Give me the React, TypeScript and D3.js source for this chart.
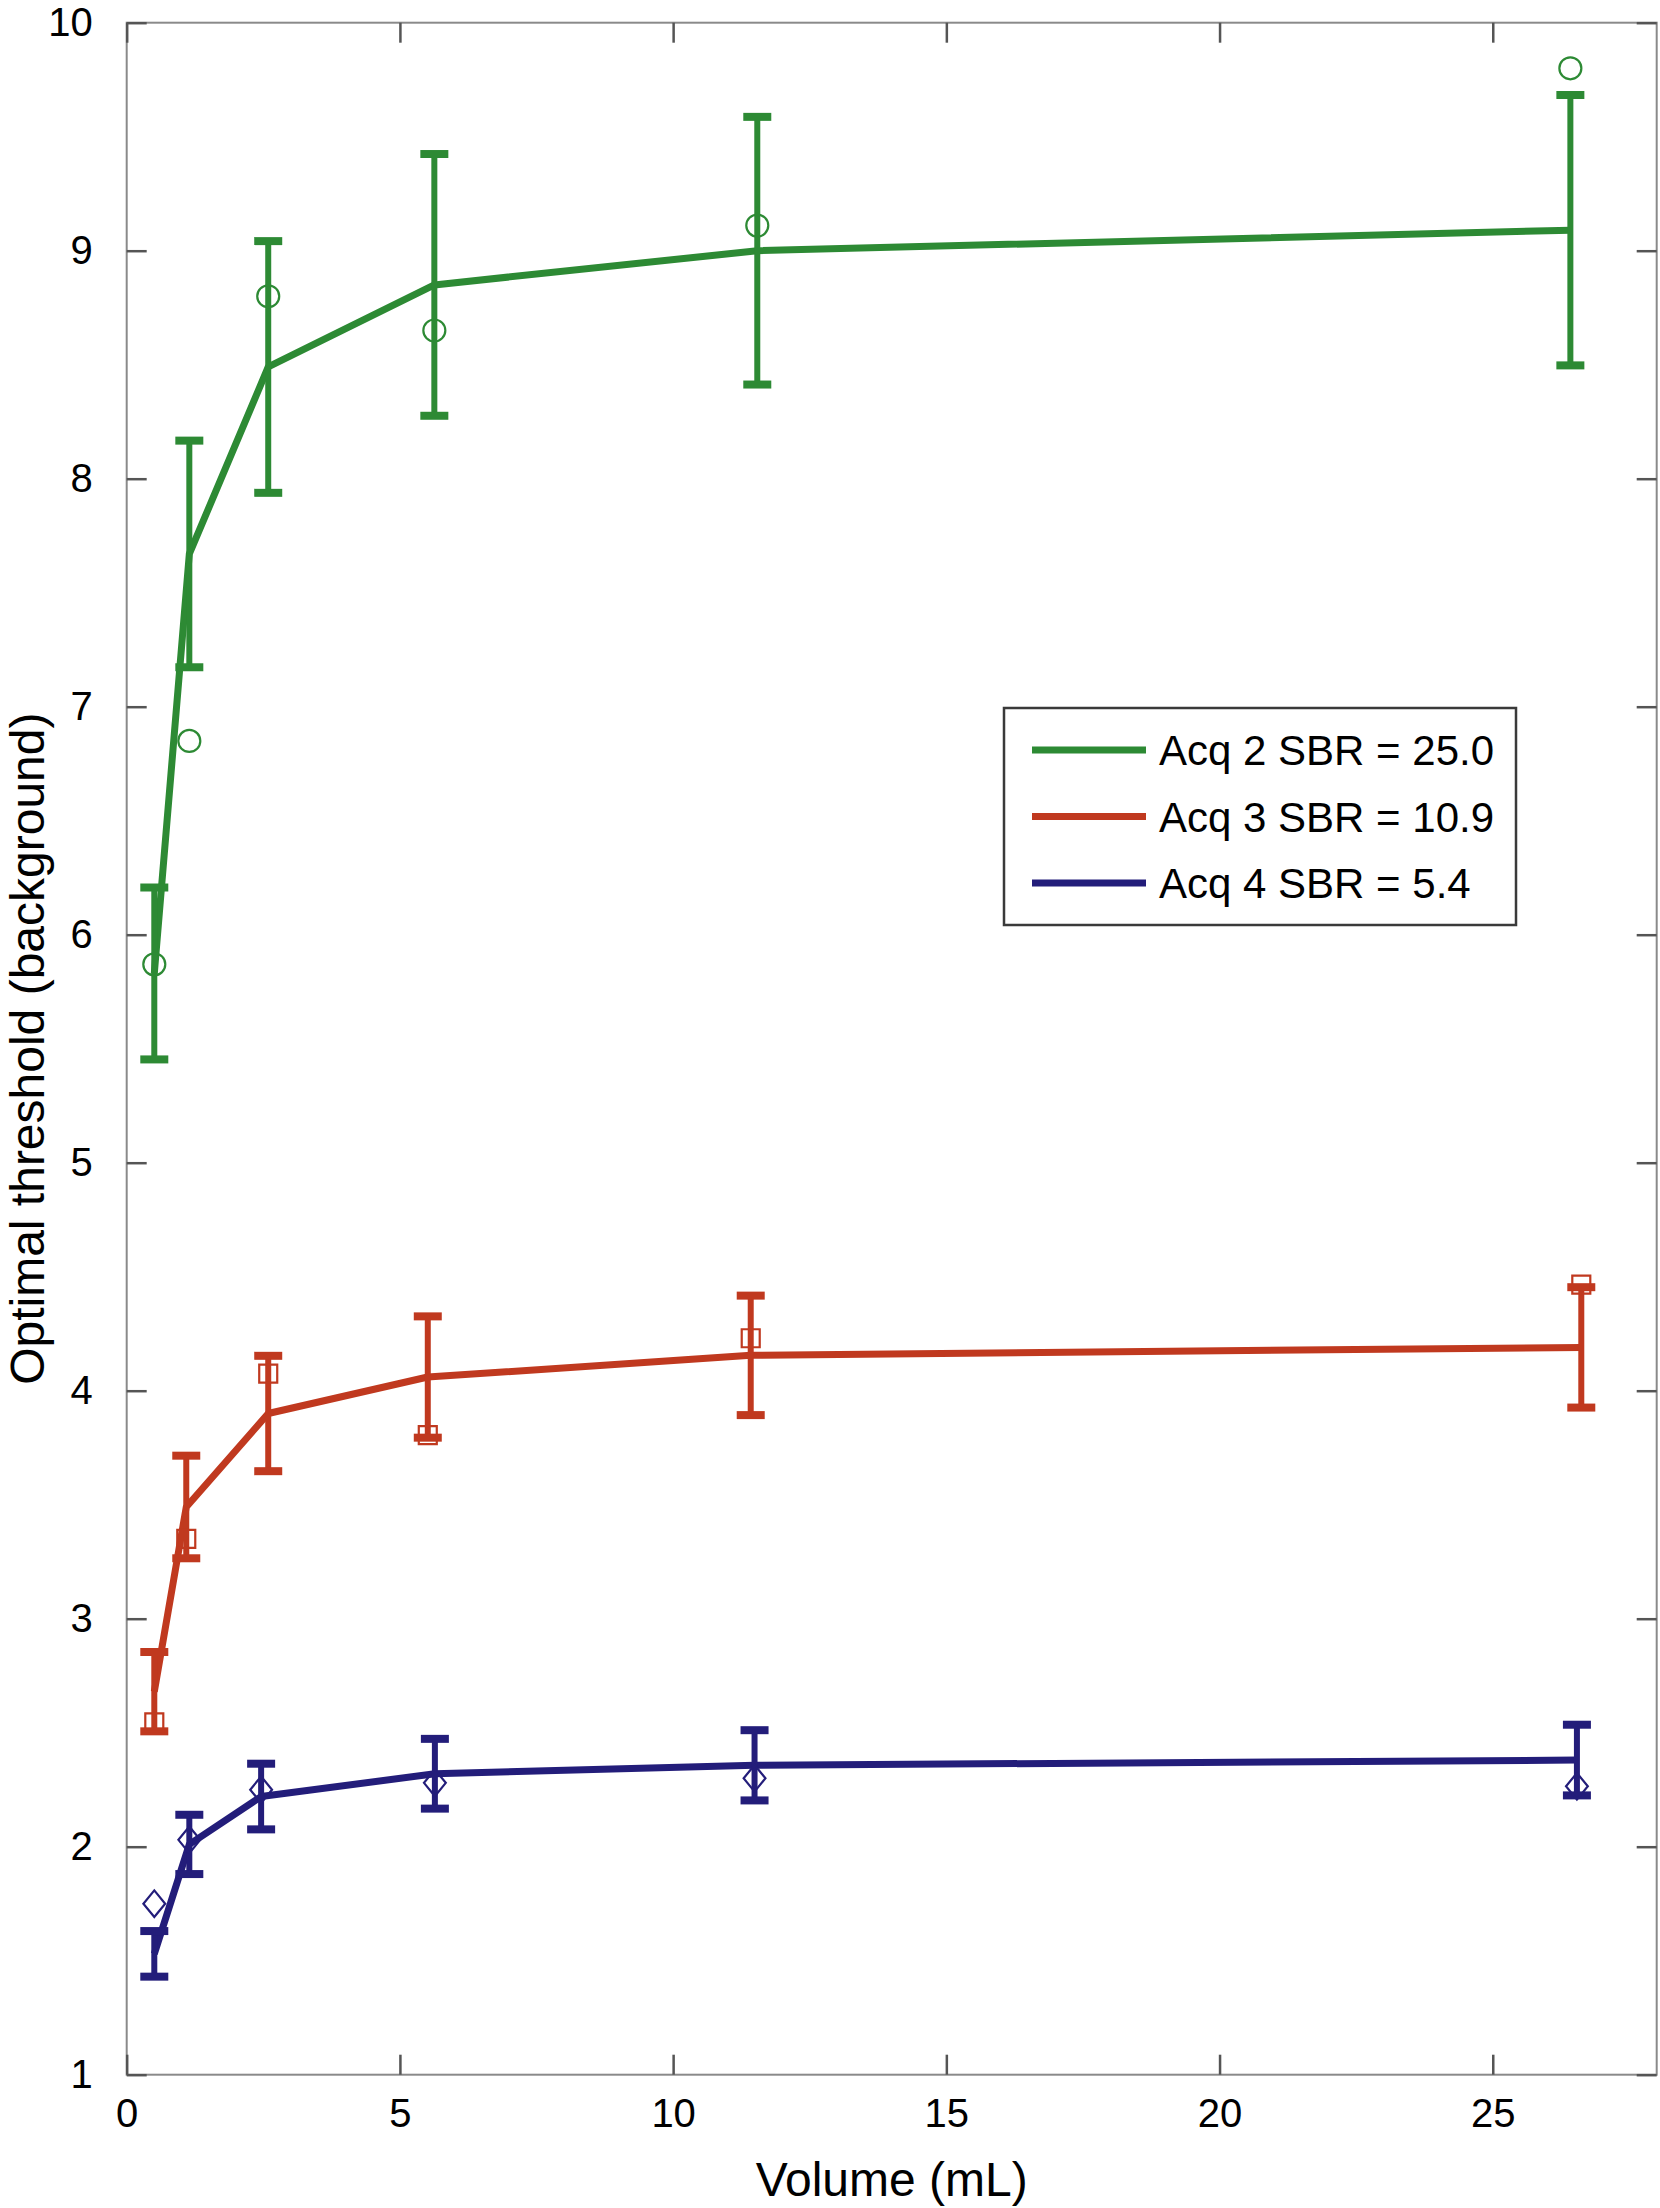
import { useEffect, useRef } from 'react';
import * as d3 from 'd3';

// axis ticks
const xTicks = [0, 5, 10, 15, 20, 25];
const yTicks = [1, 2, 3, 4, 5, 6, 7, 8, 9, 10];

// Acq 2 (green)
const acq2Volume = [0.505, 1.146, 2.59, 5.63, 11.54, 26.42];
const acq2Mean = [5.83, 7.67, 8.49, 8.85, 9.0, 9.09];
const acq2Err = [0.377, 0.497, 0.552, 0.574, 0.587, 0.593];
const acq2Sample = [5.87, 6.85, 8.8, 8.65, 9.11, 9.8];

// Acq 3 (red)
const acq3Volume = [0.505, 1.09, 2.59, 5.51, 11.42, 26.62];
const acq3Mean = [2.68, 3.49, 3.9, 4.06, 4.155, 4.19];
const acq3Err = [0.174, 0.225, 0.253, 0.266, 0.262, 0.264];
const acq3Sample = [2.545, 3.35, 4.075, 3.805, 4.23, 4.465];

// Acq 4 (blue)
const acq4Volume = [0.505, 1.146, 2.46, 5.64, 11.49, 26.54];
const acq4Mean = [1.53, 2.01, 2.22, 2.32, 2.357, 2.38];
const acq4Err = [0.1, 0.13, 0.144, 0.153, 0.154, 0.155];
const acq4Sample = [1.75, 2.03, 2.25, 2.28, 2.3, 2.265];

const legendLabels = ['Acq 2 SBR = 25.0', 'Acq 3 SBR = 10.9', 'Acq 4 SBR = 5.4'];

const WIDTH = 1660;
const HEIGHT = 2208;
const FONT = '"Liberation Sans", Arial, Helvetica, sans-serif';

// taller-than-wide diamond like the marker in the figure
const symbolDiamondWide = {
  draw(ctx: any, size: number) {
    const h = Math.sqrt(size) * 0.62;
    const w = h * 0.82;
    ctx.moveTo(0, -h);
    ctx.lineTo(w, 0);
    ctx.lineTo(0, h);
    ctx.lineTo(-w, 0);
    ctx.closePath();
  },
};

export default function App() {
  const ref = useRef<SVGSVGElement>(null);

  useEffect(() => {
    if (!ref.current) return;
    const svg = d3.select(ref.current);
    svg.selectAll('*').remove();

    const margin = { top: 22.7, right: 3.3, bottom: 133.3, left: 126.7 };
    const innerW = WIDTH - margin.left - margin.right;
    const innerH = HEIGHT - margin.top - margin.bottom;

    svg.append('rect').attr('width', WIDTH).attr('height', HEIGHT).attr('fill', '#fff');

    const g = svg.append('g').attr('transform', `translate(${margin.left},${margin.top})`);

    const x = d3.scaleLinear().domain([0, 28]).range([0, innerW]);
    const y = d3.scaleLinear().domain([1, 10]).range([innerH, 0]);

    // box
    g.append('rect')
      .attr('width', innerW)
      .attr('height', innerH)
      .attr('fill', 'none')
      .attr('stroke', '#8a8a8a')
      .attr('stroke-width', 2);

    const styleAxis = (sel: any, labels: boolean) => {
      sel.select('.domain').remove();
      sel.selectAll('.tick line').attr('stroke', '#555').attr('stroke-width', 2.5);
      if (labels) {
        sel.selectAll('.tick text')
          .attr('fill', '#000')
          .attr('font-family', FONT)
          .attr('font-size', 40);
      } else {
        sel.selectAll('.tick text').remove();
      }
    };

    g.append('g')
      .attr('transform', `translate(0,${innerH})`)
      .call(d3.axisBottom(x).tickValues(xTicks).tickSizeInner(-20).tickSizeOuter(0).tickPadding(24))
      .call((s: any) => styleAxis(s, true));
    g.append('g')
      .call(d3.axisTop(x).tickValues(xTicks).tickSizeInner(-20).tickSizeOuter(0))
      .call((s: any) => styleAxis(s, false));
    g.append('g')
      .call(d3.axisLeft(y).tickValues(yTicks).tickSizeInner(-20).tickSizeOuter(0).tickPadding(34))
      .call((s: any) => styleAxis(s, true));
    g.append('g')
      .attr('transform', `translate(${innerW},0)`)
      .call(d3.axisRight(y).tickValues(yTicks).tickSizeInner(-20).tickSizeOuter(0))
      .call((s: any) => styleAxis(s, false));

    const series = [
      { xs: acq2Volume, mean: acq2Mean, err: acq2Err, sample: acq2Sample, color: '#2d8a34', symbol: d3.symbolCircle, size: 380 },
      { xs: acq3Volume, mean: acq3Mean, err: acq3Err, sample: acq3Sample, color: '#c0391f', symbol: d3.symbolSquare, size: 324 },
      { xs: acq4Volume, mean: acq4Mean, err: acq4Err, sample: acq4Sample, color: '#231d7a', symbol: symbolDiamondWide, size: 460 },
    ];

    series.forEach((s) => {
      const pts = s.xs.map((v, i) => ({ v, m: s.mean[i], e: s.err[i], smp: s.sample[i] }));
      const path = d3.line<typeof pts[0]>()
        .x((d) => x(d.v))
        .y((d) => y(d.m));

      const sg = g.append('g');
      sg.append('path')
        .attr('d', path(pts))
        .attr('fill', 'none')
        .attr('stroke', s.color)
        .attr('stroke-width', 7)
        .attr('stroke-linejoin', 'round');

      const bars = sg.selectAll('g.bar').data(pts).enter().append('g');
      bars.append('line')
        .attr('x1', (d) => x(d.v))
        .attr('x2', (d) => x(d.v))
        .attr('y1', (d) => y(d.m + d.e))
        .attr('y2', (d) => y(d.m - d.e))
        .attr('stroke', s.color)
        .attr('stroke-width', 6);
      [1, -1].forEach((sign) => {
        bars.append('line')
          .attr('x1', (d) => x(d.v) - 14)
          .attr('x2', (d) => x(d.v) + 14)
          .attr('y1', (d) => y(d.m + sign * d.e))
          .attr('y2', (d) => y(d.m + sign * d.e))
          .attr('stroke', s.color)
          .attr('stroke-width', 8);
      });

      sg.selectAll('path.marker')
        .data(pts)
        .enter()
        .append('path')
        .attr('transform', (d) => `translate(${x(d.v)},${y(d.smp)})`)
        .attr('d', d3.symbol().type(s.symbol as any).size(s.size)())
        .attr('fill', 'none')
        .attr('stroke', s.color)
        .attr('stroke-width', 2.2);
    });

    // legend
    const lg = svg.append('g').attr('transform', 'translate(1004,708)');
    lg.append('rect')
      .attr('width', 512)
      .attr('height', 217)
      .attr('fill', '#fff')
      .attr('stroke', '#3a3a3a')
      .attr('stroke-width', 2.5);
    legendLabels.forEach((label, i) => {
      const cy = 42 + i * 66.5;
      lg.append('line')
        .attr('x1', 28)
        .attr('x2', 142)
        .attr('y1', cy)
        .attr('y2', cy)
        .attr('stroke', series[i].color)
        .attr('stroke-width', 7);
      lg.append('text')
        .attr('x', 155)
        .attr('y', cy + 15)
        .attr('font-family', FONT)
        .attr('font-size', 42)
        .attr('fill', '#000')
        .text(label);
    });

    // axis titles
    svg.append('text')
      .attr('x', margin.left + innerW / 2)
      .attr('y', 2196)
      .attr('text-anchor', 'middle')
      .attr('font-family', FONT)
      .attr('font-size', 48)
      .attr('fill', '#000')
      .text('Volume (mL)');
    svg.append('text')
      .attr('transform', `translate(44,${margin.top + innerH / 2}) rotate(-90)`)
      .attr('text-anchor', 'middle')
      .attr('font-family', FONT)
      .attr('font-size', 48)
      .attr('fill', '#000')
      .text('Optimal threshold (background)');
  }, []);

  return (
    <svg
      ref={ref}
      width={WIDTH}
      height={HEIGHT}
      style={{ position: 'absolute', left: 0, top: 0, display: 'block' }}
    />
  );
}
